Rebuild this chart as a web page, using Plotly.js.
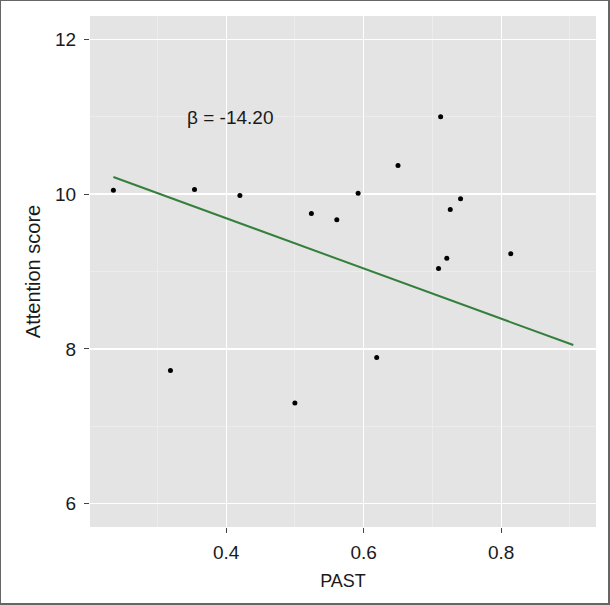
<!DOCTYPE html>
<html>
<head>
<meta charset="utf-8">
<script src="https://cdn.plot.ly/plotly-3.0.1.min.js"></script>
<style>
  body { margin: 0; background: #fff; }
  #frame {
    width: 610px; height: 605px; box-sizing: border-box;
    border-left: 1px solid #666; border-top: 1px solid #666;
    border-right: 2px solid #666; border-bottom: 2px solid #666;
  }
</style>
</head>
<body>
<div id="frame"><div id="chart"></div></div>
<script>
// PAST vs attention score, one dot per subject
var pastVals = [0.236, 0.319, 0.354, 0.420, 0.500, 0.524, 0.561, 0.592, 0.619,
                0.650, 0.709, 0.712, 0.721, 0.726, 0.741, 0.814];
var attention = [10.05, 7.72, 10.06, 9.98, 7.30, 9.75, 9.67, 10.01, 7.89,
                 10.37, 9.04, 11.00, 9.17, 9.80, 9.94, 9.23];

// fitted line end points
var fitX = [0.236, 0.905];
var fitY = [10.22, 8.05];

var betaLabel = 'β = -14.20';

var pts = {
  x: pastVals,
  y: attention,
  mode: 'markers',
  type: 'scatter',
  marker: { color: '#000', size: 5 },
  hoverinfo: 'x+y',
};

var fit = {
  x: fitX,
  y: fitY,
  mode: 'lines',
  type: 'scatter',
  line: { color: '#347f3b', width: 2 },
  hoverinfo: 'skip',
};

var fam = 'Liberation Sans, Arial, sans-serif';
var tickFont = { family: fam, size: 19, color: '#1a1a1a' };

var layout = {
  width: 607,
  height: 602,
  margin: { l: 88.5, r: 12, t: 14.5, b: 75.5 },
  paper_bgcolor: '#fff',
  plot_bgcolor: '#e4e4e4',
  showlegend: false,
  xaxis: {
    range: [0.202, 0.938],
    tick0: 0, dtick: 0.2,
    tickformat: '.1f',
    ticks: 'outside', ticklen: 5, tickcolor: '#444', tickwidth: 1,
    ticklabelstandoff: 3,
    tickfont: tickFont,
    showgrid: true, gridcolor: '#fff', gridwidth: 1.2,
    minor: { dtick: 0.1, showgrid: true, gridcolor: '#f2f2f2', gridwidth: 0.6 },
    zeroline: false, showline: false,
    title: { text: 'PAST', font: { family: fam, size: 18, color: '#1a1a1a' }, standoff: 12 },
  },
  yaxis: {
    range: [5.70, 12.30],
    tick0: 0, dtick: 2,
    ticks: 'outside', ticklen: 5, tickcolor: '#444', tickwidth: 1,
    ticklabelstandoff: 4,
    tickfont: tickFont,
    showgrid: true, gridcolor: '#fff', gridwidth: 1.2,
    minor: { dtick: 1, showgrid: true, gridcolor: '#f2f2f2', gridwidth: 0.6 },
    zeroline: false, showline: false,
    title: { text: 'Attention score', font: { family: fam, size: 20, color: '#1a1a1a' }, standoff: 9 },
  },
  annotations: [{
    x: 0.405, y: 10.99, xref: 'x', yref: 'y',
    text: betaLabel, showarrow: false,
    font: { family: fam, size: 19, color: '#1a1a1a' },
  }],
};

Plotly.newPlot('chart', [fit, pts], layout, { displayModeBar: false, staticPlot: true });
</script>
</body>
</html>
